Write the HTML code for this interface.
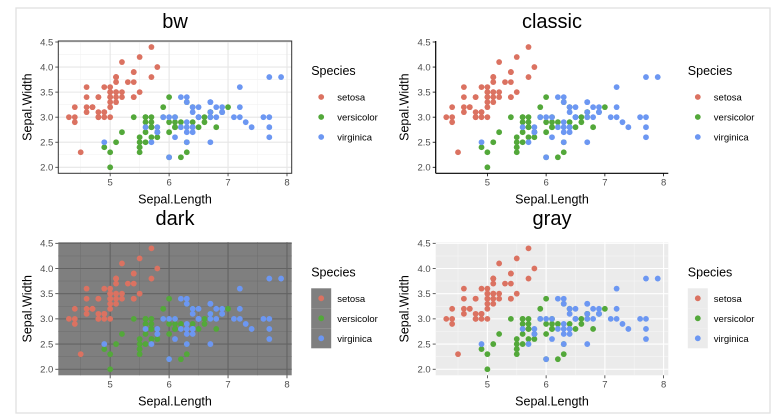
<!DOCTYPE html>
<html><head><meta charset="utf-8"><style>
html,body{margin:0;padding:0;background:#fff;}
svg{display:block;font-family:"Liberation Sans",sans-serif;}
</style></head><body>
<svg id="fig" width="779" height="420" viewBox="0 0 779 420">
<rect x="16" y="8" width="754" height="405" fill="#fff" stroke="#e0e0e0" stroke-width="1.3"/>
</svg>
<script>
const species = ["setosa","versicolor","virginica"];
const colors = ["#DB7261","#53A83A","#6C97F2"];
const xTicks = [5,6,7,8];
const yTicks = [2.0,2.5,3.0,3.5,4.0,4.5];
const setosaLen = [5.1,4.9,4.7,4.6,5.0,5.4,4.6,5.0,4.4,4.9,5.4,4.8,4.8,4.3,5.8,5.7,5.4,5.1,5.7,5.1,5.4,5.1,4.6,5.1,4.8,5.0,5.0,5.2,5.2,4.7,4.8,5.4,5.2,5.5,4.9,5.0,5.5,4.9,4.4,5.1,5.0,4.5,4.4,5.0,5.1,4.8,5.1,4.6,5.3,5.0];
const setosaWid = [3.5,3.0,3.2,3.1,3.6,3.9,3.4,3.4,2.9,3.1,3.7,3.4,3.0,3.0,4.0,4.4,3.9,3.5,3.8,3.8,3.4,3.7,3.6,3.3,3.4,3.0,3.4,3.5,3.4,3.2,3.1,3.4,4.1,4.2,3.1,3.2,3.5,3.6,3.0,3.4,3.5,2.3,3.2,3.5,3.8,3.0,3.8,3.2,3.7,3.3];
const versiLen = [7.0,6.4,6.9,5.5,6.5,5.7,6.3,4.9,6.6,5.2,5.0,5.9,6.0,6.1,5.6,6.7,5.6,5.8,6.2,5.6,5.9,6.1,6.3,6.1,6.4,6.6,6.8,6.7,6.0,5.7,5.5,5.5,5.8,6.0,5.4,6.0,6.7,6.3,5.6,5.5,5.5,6.1,5.8,5.0,5.6,5.7,5.7,6.2,5.1,5.7];
const versiWid = [3.2,3.2,3.1,2.3,2.8,2.8,3.3,2.4,2.9,2.7,2.0,3.0,2.2,2.9,2.9,3.1,3.0,2.7,2.2,2.5,3.2,2.8,2.5,2.8,2.9,3.0,2.8,3.0,2.9,2.6,2.4,2.4,2.7,2.7,3.0,3.4,3.1,2.3,3.0,2.5,2.6,3.0,2.6,2.3,2.7,3.0,2.9,2.9,2.5,2.8];
const virgLen = [6.3,5.8,7.1,6.3,6.5,7.6,4.9,7.3,6.7,7.2,6.5,6.4,6.8,5.7,5.8,6.4,6.5,7.7,7.7,6.0,6.9,5.6,7.7,6.3,6.7,7.2,6.2,6.1,6.4,7.2,7.4,7.9,6.4,6.3,6.1,7.7,6.3,6.4,6.0,6.9,6.7,6.9,5.8,6.8,6.7,6.7,6.3,6.5,6.2,5.9];
const virgWid = [3.3,2.7,3.0,2.9,3.0,3.0,2.5,2.9,2.5,3.6,3.2,2.7,3.0,2.5,2.8,3.2,3.0,3.8,2.6,2.2,3.2,2.8,2.8,2.7,3.3,3.2,2.8,3.0,2.8,3.0,2.8,3.8,2.8,2.8,2.6,3.0,3.4,3.1,3.0,3.1,3.1,3.1,2.7,3.2,3.3,3.0,2.5,3.0,3.4,3.0];
const seriesLen = [setosaLen, versiLen, virgLen];
const seriesWid = [setosaWid, versiWid, virgWid];

const NS = "http://www.w3.org/2000/svg";
const fig = document.getElementById("fig");
function el(tag, attrs, parent, text){
  const e = document.createElementNS(NS, tag);
  for (const k in attrs) e.setAttribute(k, attrs[k]);
  if (text !== undefined) e.textContent = text;
  (parent || fig).appendChild(e);
  return e;
}
const allLen = [].concat(...seriesLen), allWid = [].concat(...seriesWid);
const xMin = Math.min(...allLen), xMax = Math.max(...allLen);
const yMin = Math.min(...allWid), yMax = Math.max(...allWid);
const xPad = (xMax - xMin) * 0.05, yPad = (yMax - yMin) * 0.05;

const panels = [
  {name:"bw", x0:58.3, x1:291.7, y0:41, y1:173.3, titleY:28},
  {name:"classic", x0:435.7, x1:668.3, y0:41, y1:173.3, titleY:28},
  {name:"dark", x0:58.3, x1:291.7, y0:242.3, y1:375.3, titleY:225},
  {name:"gray", x0:435.7, x1:668.3, y0:242.3, y1:375.3, titleY:225}
];

panels.forEach(p => {
  const g = el("g", {});
  
  
  const sx = v => p.x0 + (v - (xMin - xPad)) / ((xMax + xPad) - (xMin - xPad)) * (p.x1 - p.x0);
  const sy = v => p.y1 - (v - (yMin - yPad)) / ((yMax + yPad) - (yMin - yPad)) * (p.y1 - p.y0);
  const cx = (p.x0 + p.x1) / 2, cy = (p.y0 + p.y1) / 2;
  const t = el("text", {x:cx, y:p.titleY, "text-anchor":"middle", "font-size":"20", fill:"#000"}, g, p.name);
  
  
  // background
  let bg = null, major = null, minor = null;
  if (p.name === "bw") { bg = "#fff"; major = "#e6e6e6"; minor = "#f2f2f2"; }
  if (p.name === "dark") { bg = "#7f7f7f"; major = "#636363"; minor = "#707070"; }
  if (p.name === "gray") { bg = "#ebebeb"; major = "#fff"; minor = "#f5f5f5"; }
  if (bg) {
    const r = el("rect", {x:p.x0, y:p.y0, width:p.x1-p.x0, height:p.y1-p.y0, fill:bg}, g);
    
    
    // minor grid
    for (let i = 0; i < xTicks.length; i++) {
      const v = xTicks[i] - 0.5;
      if (v > xMin - xPad) { const l = el("line", {x1:sx(v), x2:sx(v), y1:p.y0, y2:p.y1, stroke:minor, "stroke-width":0.6}, g);   }
    }
    for (let i = 0; i < yTicks.length - 1; i++) {
      const v = (yTicks[i] + yTicks[i+1]) / 2;
      const l = el("line", {x1:p.x0, x2:p.x1, y1:sy(v), y2:sy(v), stroke:minor, "stroke-width":0.6}, g);
      
      
    }
    xTicks.forEach(v => { const l = el("line", {x1:sx(v), x2:sx(v), y1:p.y0, y2:p.y1, stroke:major, "stroke-width":1.1}, g);   });
    yTicks.forEach(v => { const l = el("line", {x1:p.x0, x2:p.x1, y1:sy(v), y2:sy(v), stroke:major, "stroke-width":1.1}, g);   });
  }
  // points
  seriesLen.forEach((lens, s) => {
    lens.forEach((v, i) => {
      const c = el("circle", {cx:sx(v), cy:sy(seriesWid[s][i]), r:2.9, fill:colors[s]}, g);
      
      
    });
  });
  // border / axes
  if (p.name === "bw") {
    const b = el("rect", {x:p.x0, y:p.y0, width:p.x1-p.x0, height:p.y1-p.y0, fill:"none", stroke:"#333", "stroke-width":1}, g);
     
  }
  if (p.name === "classic") {
    const a1 = el("line", {x1:p.x0, x2:p.x0, y1:p.y0, y2:p.y1, stroke:"#000", "stroke-width":1.2}, g);
     
    const a2 = el("line", {x1:p.x0, x2:p.x1, y1:p.y1, y2:p.y1, stroke:"#000", "stroke-width":1.2}, g);
     
  }
  const tickCol = p.name === "classic" ? "#000" : "#333";
  xTicks.forEach((v, i) => {
    const tk = el("line", {x1:sx(v), x2:sx(v), y1:p.y1, y2:p.y1+3, stroke:tickCol, "stroke-width":0.8}, g);
     
    const tl = el("text", {x:sx(v), y:p.y1+12, "text-anchor":"middle", "font-size":"9.5", fill:"#4d4d4d"}, g, String(xTicks[i]));
     
  });
  yTicks.forEach((v, i) => {
    const tk = el("line", {x1:p.x0-3, x2:p.x0, y1:sy(v), y2:sy(v), stroke:tickCol, "stroke-width":0.8}, g);
     
    const tl = el("text", {x:p.x0-5, y:sy(v)+3.3, "text-anchor":"end", "font-size":"9.5", fill:"#4d4d4d"}, g, yTicks[i].toFixed(1));
     
  });
  const xt = el("text", {x:cx, y:p.y1+30, "text-anchor":"middle", "font-size":"12.5", fill:"#000"}, g, "Sepal.Length");
   
  const yx = p.x0 - 27;
  const yt = el("text", {x:yx, y:cy, "text-anchor":"middle", "font-size":"12.5", fill:"#000", transform:`rotate(-90 ${yx} ${cy})`}, g, "Sepal.Width");
   
  // legend
  const lx = p.x1 + 19.5, ly = p.y0 + 34;
  const lg = el("g", {}, g);
   
  const lt = el("text", {x:lx, y:ly, "font-size":"12.5", fill:"#000"}, lg, "Species");
   
  let keyBg = null;
  if (p.name === "dark") keyBg = "#7f7f7f";
  if (p.name === "gray") keyBg = "#ebebeb";
  species.forEach((sp, s) => {
    const ey = ly + 22 + s * 20;
    if (keyBg) {
      const kb = el("rect", {x:lx, y:ey-10, width:20, height:20, fill:keyBg}, lg);
       
    }
    const kc = el("circle", {cx:lx+10, cy:ey, r:2.9, fill:colors[s]}, lg);
     
    const kt = el("text", {x:lx+26, y:ey+3.5, "font-size":"9.5", fill:"#000"}, lg, sp);
     
  });
});
</script>
</body></html>
